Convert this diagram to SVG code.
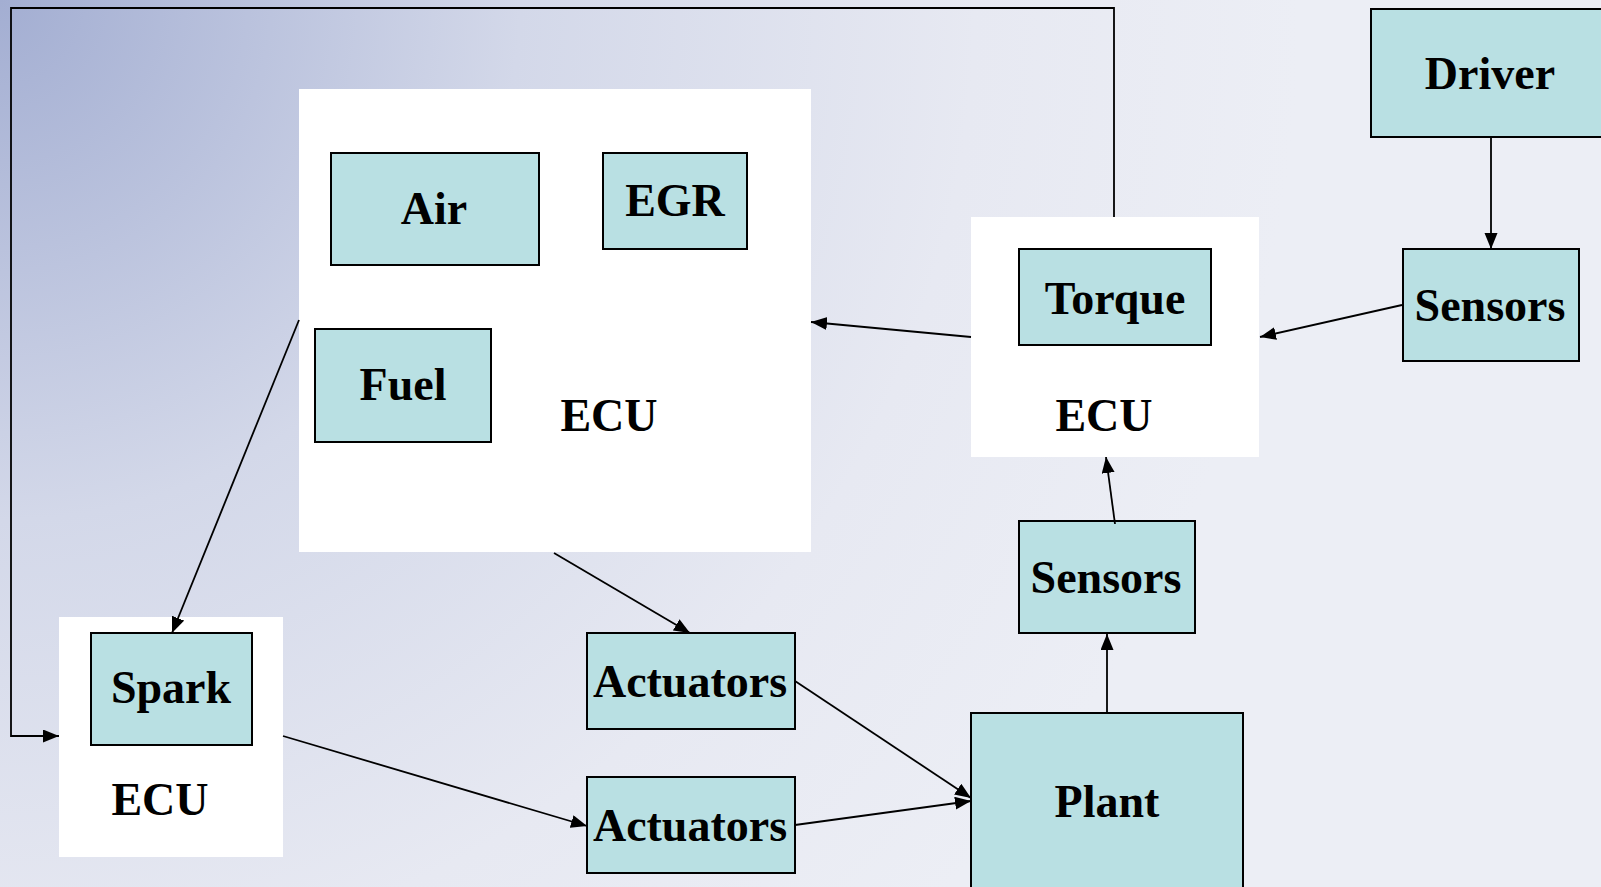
<svg xmlns="http://www.w3.org/2000/svg" width="1601" height="887" viewBox="0 0 1601 887">
<defs>
<radialGradient id="bg" cx="0" cy="0" r="1300" gradientUnits="userSpaceOnUse">
<stop offset="0" stop-color="#a3aed2"/>
<stop offset="0.4" stop-color="#d3d8e9"/>
<stop offset="0.75" stop-color="#e7e9f2"/>
<stop offset="1" stop-color="#eceef5"/>
</radialGradient>
<marker id="ah" markerUnits="userSpaceOnUse" markerWidth="18" markerHeight="14" refX="16" refY="6.5" orient="auto">
<path d="M0,0 L16,6.5 L0,13 z" fill="#000"/>
</marker>
<style>
.box{fill:#b9e0e3;stroke:#000;stroke-width:2}
.ecu{fill:#fff}
.t{font-family:"Liberation Serif","Times New Roman",serif;font-weight:bold;font-size:46px;fill:#000;text-anchor:middle}
.ca{fill:none;stroke:#000;stroke-width:1.8;marker-end:url(#ah)}
</style>
</defs>
<rect x="0" y="0" width="1601" height="887" fill="url(#bg)"/>

<g id="ecu-main">
<rect class="ecu" x="299" y="89" width="512" height="463"/>
<text class="t" x="609" y="431">ECU</text>
</g>
<g id="air">
<rect class="box" x="331" y="153" width="208" height="112"/>
<text class="t" x="434" y="224">Air</text>
</g>
<g id="egr">
<rect class="box" x="603" y="153" width="144" height="96"/>
<text class="t" x="675" y="216">EGR</text>
</g>
<g id="fuel">
<rect class="box" x="315" y="329" width="176" height="113"/>
<text class="t" x="403" y="400">Fuel</text>
</g>

<g id="ecu-torque">
<rect class="ecu" x="971" y="217" width="288" height="240"/>
<text class="t" x="1104" y="431">ECU</text>
</g>
<g id="torque">
<rect class="box" x="1019" y="249" width="192" height="96"/>
<text class="t" x="1115" y="314">Torque</text>
</g>

<g id="driver">
<rect class="box" x="1371" y="9" width="240" height="128"/>
<text class="t" x="1490" y="89">Driver</text>
</g>
<g id="sensors-driver">
<rect class="box" x="1403" y="249" width="176" height="112"/>
<text class="t" x="1490" y="321">Sensors</text>
</g>

<g id="ecu-spark">
<rect class="ecu" x="59" y="617" width="224" height="240"/>
<text class="t" x="160" y="815">ECU</text>
</g>
<g id="spark">
<rect class="box" x="91" y="633" width="161" height="112"/>
<text class="t" x="171" y="703">Spark</text>
</g>

<g id="actuators-1">
<rect class="box" x="587" y="633" width="208" height="96"/>
<text class="t" x="690" y="697">Actuators</text>
</g>
<g id="actuators-2">
<rect class="box" x="587" y="777" width="208" height="96"/>
<text class="t" x="690" y="841">Actuators</text>
</g>

<g id="sensors-plant">
<rect class="box" x="1019" y="521" width="176" height="112"/>
<text class="t" x="1106" y="593">Sensors</text>
</g>
<g id="plant">
<rect class="box" x="971" y="713" width="272" height="190"/>
<text class="t" x="1107" y="817">Plant</text>
</g>

<g id="connectors">
<polyline class="ca" points="1114,217 1114,8 11,8 11,736 59,736"/>
<line class="ca" x1="1491" y1="137" x2="1491" y2="249"/>
<line class="ca" x1="1402" y1="305" x2="1260" y2="337"/>
<line class="ca" x1="971" y1="337" x2="811" y2="322"/>
<line class="ca" x1="299" y1="320" x2="172" y2="633"/>
<line class="ca" x1="554" y1="553" x2="690" y2="633"/>
<line class="ca" x1="283" y1="736" x2="587" y2="826"/>
<line class="ca" x1="795" y1="681" x2="971" y2="798"/>
<line class="ca" x1="795" y1="825" x2="971" y2="801"/>
<line class="ca" x1="1107" y1="713" x2="1107" y2="634"/>
<line class="ca" x1="1115" y1="524" x2="1106" y2="457"/>
</g>
</svg>
